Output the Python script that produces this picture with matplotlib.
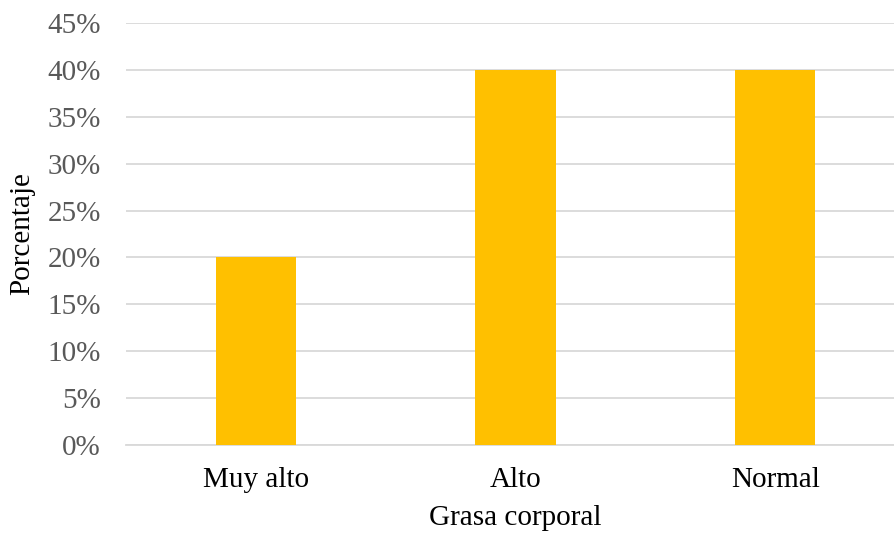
import matplotlib.pyplot as plt
from matplotlib.ticker import PercentFormatter

categories = ["Muy alto", "Alto", "Normal"]
percentages = [0.20, 0.40, 0.40]
y_ticks = [0.00, 0.05, 0.10, 0.15, 0.20, 0.25, 0.30, 0.35, 0.40, 0.45]

plt.rcParams['font.family'] = ['Liberation Serif', 'DejaVu Serif']

fig = plt.figure(figsize=(8.94, 5.38), dpi=100)
# plot area runs off the right edge a little, like the original crop
ax = fig.add_axes([126 / 894, 1 - 445 / 538, 779 / 894, 422 / 538])

x = range(len(categories))
ax.bar(x, percentages, width=0.31, color="#FFC000", zorder=3)

ax.set_xlim(-0.5, len(categories) - 0.5)
ax.set_ylim(0, 0.45)
ax.set_yticks(y_ticks)
ax.yaxis.set_major_formatter(PercentFormatter(1.0, decimals=0))
ax.set_xticks(list(x))
ax.set_xticklabels(categories)

ax.grid(axis="y", color="#d9d9d9", linewidth=1.3, zorder=0)
for side in ["top", "right", "left"]:
    ax.spines[side].set_visible(False)
ax.spines["bottom"].set_color("#d9d9d9")
ax.spines["bottom"].set_linewidth(1.3)

ax.tick_params(axis="y", length=0, labelsize=21, labelcolor="#595959", pad=18)
ax.tick_params(axis="x", length=0, labelsize=21, labelcolor="black", pad=16)

ax.set_xlabel("Grasa corporal", fontsize=21)
ax.set_ylabel("Porcentaje", fontsize=21)
ax.xaxis.set_label_coords(0.5, -60 / 422)
ax.yaxis.set_label_coords(-91 / 779, 0.5)

fig.savefig("out.png", dpi=100)
